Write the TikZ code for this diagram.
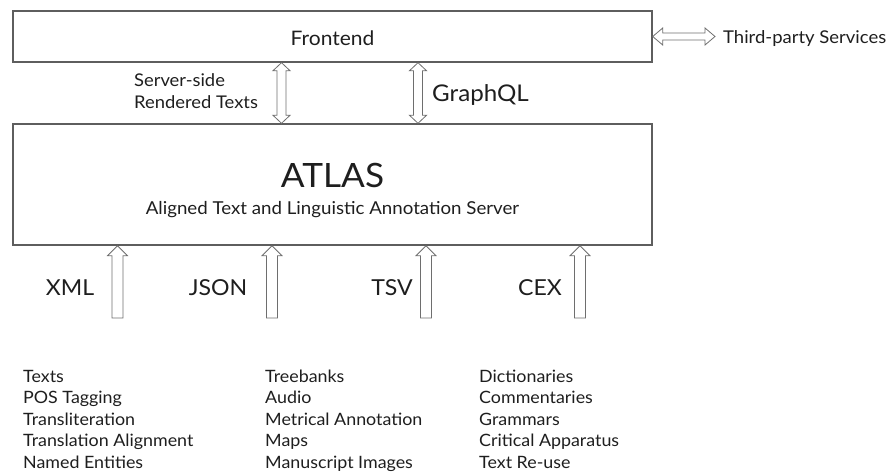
\documentclass[tikz,border=0pt]{standalone}
\usepackage{fontspec}
\setmainfont{Lato}[FakeStretch=1.05]
\usetikzlibrary{calc}
\definecolor{boxgray}{HTML}{5E5E5E}
\definecolor{arrowgray}{HTML}{6E6E6E}
\definecolor{ink}{HTML}{1E1E1E}
\tikzset{
  fat shaft/.store in=\fatshaft,
  fat head/.store in=\fathead,
  fat len/.store in=\fatlen,
  fat shaft=4.5pt, fat head=8.5pt, fat len=8pt,
  box/.style={draw=boxgray, line width=1.4pt, inner sep=0pt},
  txt/.style={text=ink, inner sep=0pt, anchor=base},
  % outlined block arrow, one head at the target
  fatarrow/.style={draw=arrowgray, line width=0.8pt, line join=miter,
    to path={
      let \p1=(\tikztostart), \p2=(\tikztotarget),
          \n1={atan2(\y2-\y1,\x2-\x1)} in
      ([shift={(\n1+90:\fatshaft)}]\p1)
      -- ([shift={(\n1+90:\fatshaft)},shift={(\n1+180:\fatlen)}]\p2)
      -- ([shift={(\n1+90:\fathead)},shift={(\n1+180:\fatlen)}]\p2)
      -- (\p2)
      -- ([shift={(\n1-90:\fathead)},shift={(\n1+180:\fatlen)}]\p2)
      -- ([shift={(\n1-90:\fatshaft)},shift={(\n1+180:\fatlen)}]\p2)
      -- ([shift={(\n1-90:\fatshaft)}]\p1) -- cycle}},
  % outlined block arrow, heads at both ends
  fatboth/.style={draw=arrowgray, line width=0.8pt, line join=miter,
    to path={
      let \p1=(\tikztostart), \p2=(\tikztotarget),
          \n1={atan2(\y2-\y1,\x2-\x1)} in
      (\p1)
      -- ([shift={(\n1+90:\fathead)},shift={(\n1:\fatlen)}]\p1)
      -- ([shift={(\n1+90:\fatshaft)},shift={(\n1:\fatlen)}]\p1)
      -- ([shift={(\n1+90:\fatshaft)},shift={(\n1+180:\fatlen)}]\p2)
      -- ([shift={(\n1+90:\fathead)},shift={(\n1+180:\fatlen)}]\p2)
      -- (\p2)
      -- ([shift={(\n1-90:\fathead)},shift={(\n1+180:\fatlen)}]\p2)
      -- ([shift={(\n1-90:\fatshaft)},shift={(\n1+180:\fatlen)}]\p2)
      -- ([shift={(\n1-90:\fatshaft)},shift={(\n1:\fatlen)}]\p1)
      -- ([shift={(\n1-90:\fathead)},shift={(\n1:\fatlen)}]\p1)
      -- cycle}}
}

\begin{document}
\begin{tikzpicture}[
  x=1pt,
  y=-1pt,
  boxlabel/.style={txt, font=\fontsize{20}{24}\selectfont},
  fmtlabel/.style={txt, font=\fontsize{22}{26}\selectfont},
  listitem/.style={txt, anchor=base west, font=\fontsize{17}{20}\selectfont}
]
\useasboundingbox (0,0) rectangle (890,473);

% the two layers
\node[box, minimum width=639pt, minimum height=51pt] (frontend) at (332.5,36.5) {};
\node[box, minimum width=639pt, minimum height=121pt] (atlas) at (332.5,184.5) {};

\node[boxlabel] (frontend-text) at (332.5,46) {Frontend};
\node[txt, font=\fontsize{33.5}{38}\selectfont] (atlas-title) at (332.5,187) {ATLAS};
\node[txt, font=\fontsize{17.8}{21}\selectfont] (atlas-sub) at (332.5,214)
     {Aligned Text and Linguistic Annotation Server};

% frontend <-> atlas
\node[txt, anchor=base west, align=left, font=\fontsize{17.5}{22}\selectfont]
     (ssr-text) at (134,109) {Server-side\\Rendered Texts};
\node[txt, anchor=base west, font=\fontsize{23}{26}\selectfont]
     (gql-text) at (432,102) {GraphQL};
\coordinate (ssr) at (281.5,90);
\coordinate (gql) at (418,90);
\draw[fatboth] (frontend.south -| ssr) to (atlas.north -| ssr);
\draw[fatboth] (frontend.south -| gql) to (atlas.north -| gql);

% third party
\node[txt, anchor=base west, font=\fontsize{17.6}{21}\selectfont]
     (third) at (723,44) {Third-party Services};
\draw[fatboth, fat shaft=3.5pt, fat len=10pt]
     (frontend.east) to ([xshift=-8pt]frontend.east -| third.west);

% input formats
\foreach [count=\i] \f/\fx/\ax in {XML/70/117.5,
                                   JSON/218/272,
                                   TSV/392/426,
                                   CEX/540/580}
  {
   \node[fmtlabel] (fmt-\i) at (\fx,295) {\f};
   \coordinate (src-\i) at (\ax,318);
   \draw[fatarrow, fat shaft=5.5pt, fat head=10pt, fat len=10pt]
        (src-\i) to (atlas.south -| src-\i);
  }

% what comes in
\foreach \c/\cx/\items in {1/23/{Texts,POS Tagging,Transliteration,Translation Alignment,Named Entities},
                           2/265/{Treebanks,Audio,Metrical Annotation,Maps,Manuscript Images},
                           3/479/{Dictionaries,Commentaries,Grammars,Critical Apparatus,Text Re-use}}
  {
   \foreach [count=\i from 0] \t in \items
     \node[listitem, name=item-\c-\i] at (\cx,{382+21.6*\i}) {\t};
  }

\end{tikzpicture}
\end{document}
